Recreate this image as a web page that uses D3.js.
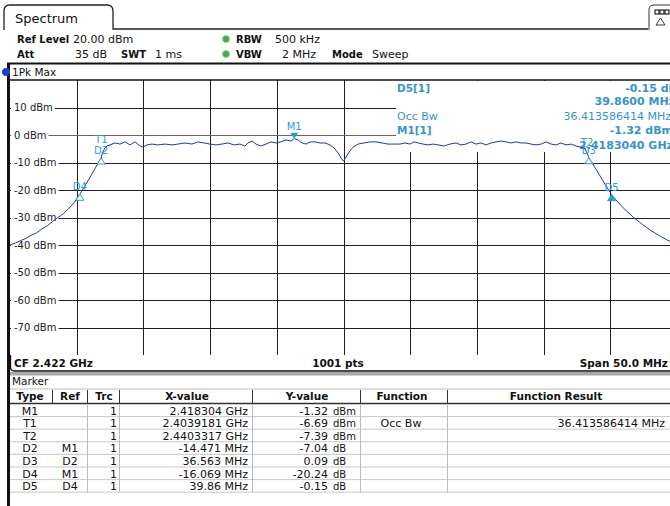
<!DOCTYPE html>
<html>
<head>
<meta charset="utf-8">
<script src="https://cdn.jsdelivr.net/npm/d3@7"></script>
<style>
  body { margin: 0; background: #fff; }
  svg { display: block; font-family: "DejaVu Sans", sans-serif; }
</style>
</head>
<body>
<svg id="chart" width="670" height="506"></svg>
<script>
// ---- Trace: 1Pk Max, frequency in MHz, level in dBm ----
const traceMHz = [
  2397.0, 2397.4, 2397.8, 2398.2, 2398.6, 2399.0, 2399.4, 2399.8, 2400.2, 2400.6,
  2401.0, 2401.4, 2401.8, 2402.235, 2402.6, 2403.0, 2403.4, 2403.833, 2403.918, 2404.1,
  2404.3, 2404.5, 2404.87, 2405.25, 2405.62, 2406.0, 2406.37, 2406.75, 2406.97, 2407.27,
  2407.64, 2408.09, 2408.62, 2409.14, 2409.59, 2410.12, 2410.64, 2411.09, 2411.54, 2411.99,
  2412.44, 2412.89, 2413.34, 2413.79, 2414.24, 2414.61, 2414.84, 2415.14, 2415.44, 2415.81,
  2416.19, 2416.56, 2416.94, 2417.31, 2417.69, 2418.06, 2418.304, 2418.59, 2418.89, 2419.19,
  2419.49, 2419.86, 2420.24, 2420.61, 2420.99, 2421.29, 2421.59, 2421.82, 2422.0, 2422.19,
  2422.42, 2422.72, 2423.09, 2423.54, 2423.99, 2424.44, 2424.89, 2425.34, 2425.79, 2426.24,
  2426.61, 2426.99, 2427.29, 2427.59, 2427.96, 2428.34, 2428.71, 2429.09, 2429.54, 2429.99,
  2430.44, 2430.81, 2431.18, 2431.56, 2431.93, 2432.31, 2432.68, 2433.06, 2433.43, 2433.81,
  2434.18, 2434.56, 2434.93, 2435.31, 2435.68, 2436.06, 2436.43, 2436.81, 2437.18, 2437.56,
  2437.93, 2438.31, 2438.68, 2439.06, 2439.43, 2439.81, 2440.11, 2440.3317, 2440.396, 2441.0,
  2441.5, 2442.095, 2442.6, 2443.2, 2443.8, 2444.4, 2445.0, 2445.6, 2446.2, 2446.6, 2447.0
];
const traceDbm = [
  -40.0, -39.3, -38.4, -37.6, -36.4, -35.6, -34.1, -33.0, -31.4, -30.0,
  -28.6, -26.8, -24.6, -21.56, -18.6, -15.4, -11.9, -8.36, -6.69, -4.8,
  -3.9, -3.6, -2.9, -3.3, -2.5, -3.6, -2.5, -4.0, -4.4, -3.6,
  -3.3, -3.6, -3.3, -3.6, -3.3, -2.9, -3.3, -2.5, -2.9, -3.3,
  -3.6, -3.3, -2.9, -3.6, -3.3, -4.0, -2.9, -2.2, -3.3, -4.0,
  -3.3, -2.5, -2.9, -2.5, -1.8, -2.2, -1.32, -1.8, -2.9, -3.3,
  -2.5, -2.5, -2.9, -2.9, -3.6, -4.7, -6.5, -8.4, -9.5, -8.0,
  -6.2, -4.4, -3.3, -2.9, -2.5, -2.5, -2.9, -3.3, -3.3, -3.3,
  -2.9, -3.3, -2.5, -2.9, -3.3, -3.6, -3.3, -3.6, -4.0, -3.3,
  -2.9, -3.6, -3.3, -2.5, -3.3, -2.9, -3.6, -2.9, -2.5, -2.2,
  -2.5, -2.9, -2.5, -2.9, -2.9, -3.3, -3.6, -3.3, -2.5, -3.3,
  -3.6, -2.9, -3.6, -3.3, -4.0, -4.4, -5.1, -7.39, -8.27, -13.0,
  -17.1, -21.71, -24.6, -27.6, -30.2, -32.5, -34.6, -36.4, -38.0, -39.0, -39.8
];

// ---- Axis ----
const freqStart = 2397.0, freqStop = 2447.0;   // CF 2.422 GHz, span 50 MHz
const levelTop = 20, levelBottom = -80;        // ref level 20 dBm, 10 dB/div
const yTickValues = [10, 0, -10, -20, -30, -40, -50, -60, -70];
const yTickLabels = ["10 dBm", "0 dBm", "-10 dBm", "-20 dBm", "-30 dBm", "-40 dBm", "-50 dBm", "-60 dBm", "-70 dBm"];

// ---- Marker table ----
const mkType  = ["M1", "T1", "T2", "D2", "D3", "D4", "D5"];
const mkRef   = ["", "", "", "M1", "D2", "M1", "D4"];
const mkTrc   = ["1", "1", "1", "1", "1", "1", "1"];
const mkX     = [2418.304, 2403.9181, 2440.3317, -14.471, 36.563, -16.069, 39.86]; // MHz
const mkXText = ["2.418304 GHz", "2.4039181 GHz", "2.4403317 GHz", "-14.471 MHz", "36.563 MHz", "-16.069 MHz", "39.86 MHz"];
const mkY     = [-1.32, -6.69, -7.39, -7.04, 0.09, -20.24, -0.15];
const mkYText = ["-1.32", "-6.69", "-7.39", "-7.04", "0.09", "-20.24", "-0.15"];
const mkYUnit = ["dBm", "dBm", "dBm", "dB", "dB", "dB", "dB"];
const mkFunc  = ["", "Occ Bw", "", "", "", "", ""];
const mkFuncResult = ["", "36.413586414 MHz", "", "", "", "", ""];

const svg = d3.select("#chart");
const x = d3.scaleLinear().domain([freqStart, freqStop]).range([10, 677]);
const y = d3.scaleLinear().domain([levelBottom, levelTop]).range([355, 80]);

const markerBlue = "#2f9bd3";
const readBlue = "#3a93c8";
const traceBlue = "#1f3aa6";

// Resolve absolute marker positions (delta markers refer to another marker)
const mkAbs = {};
mkType.forEach((t, i) => {
  if (mkRef[i] === "") mkAbs[t] = { f: mkX[i], l: mkY[i] };
  else {
    const r = mkAbs[mkRef[i]];
    mkAbs[t] = { f: r.f + mkX[i], l: r.l + mkY[i] };
  }
});

// ---- Header ----
svg.append("path")
  .attr("d", "M4,30 L4,11 Q4,5 10,5 L107,5 Q113,5 113,11 L113,29 L648,29")
  .attr("fill", "none").attr("stroke", "#222").attr("stroke-width", 1.3);
svg.append("text").attr("x", 15).attr("y", 23).attr("font-size", 13).attr("fill", "#111").text("Spectrum");

// small display icon at top right
svg.append("path").attr("d", "M672,5 L654,5 Q649,5 649,10 L649,30")
  .attr("fill", "none").attr("stroke", "#333").attr("stroke-width", 1);
[655, 660, 665].forEach(px => svg.append("rect").attr("x", px).attr("y", 10).attr("width", 4).attr("height", 4)
  .attr("fill", "none").attr("stroke", "#222").attr("stroke-width", 1.2));
svg.append("path").attr("d", "M656,25 L660.5,18 L665,25 Z").attr("fill", "none").attr("stroke", "#222").attr("stroke-width", 0.9);

function hdr(xp, yp, txt, bold, anchor, size) {
  svg.append("text").attr("x", xp).attr("y", yp).attr("font-size", size || (bold ? 10 : 11))
    .attr("font-weight", bold ? "bold" : "normal").attr("fill", "#111")
    .attr("text-anchor", anchor || "start").text(txt);
}
hdr(17, 43, "Ref Level", true); hdr(73, 43, "20.00 dBm");
hdr(17, 58, "Att", true); hdr(107, 58, "35 dB", false, "end");
hdr(121, 58, "SWT", true); hdr(155, 58, "1 ms");
hdr(236, 43, "RBW", true); hdr(275, 43, "500 kHz");
hdr(236, 58, "VBW", true); hdr(282, 58, "2 MHz");
hdr(332, 58, "Mode", true); hdr(372, 58, "Sweep");
[39, 54].forEach(cy => svg.append("circle").attr("cx", 226).attr("cy", cy).attr("r", 3.5)
  .attr("fill", "#4aa84a").attr("stroke", "#8ccf8c").attr("stroke-width", 0.8));

// frame lines
svg.append("line").attr("x1", 7).attr("x2", 670).attr("y1", 63.5).attr("y2", 63.5).attr("stroke", "#111").attr("stroke-width", 2);
svg.append("rect").attr("x", 7).attr("y", 63).attr("width", 3).attr("height", 443).attr("fill", "#111");

svg.append("circle").attr("cx", 6).attr("cy", 72).attr("r", 4).attr("fill", "#1d3fd8");
svg.append("text").attr("x", 12).attr("y", 76).attr("font-size", 10.5).attr("fill", "#111").text("1Pk Max");

// ---- Grid ----
const grid = svg.append("g");
const xGridTicks = d3.range(0, 11).map(i => freqStart + i * (freqStop - freqStart) / 10);
grid.selectAll("line.v").data(xGridTicks.slice(1)).join("line")
  .attr("x1", d => Math.round(x(d)) + 0.5).attr("x2", d => Math.round(x(d)) + 0.5)
  .attr("y1", y(levelTop)).attr("y2", y(levelBottom))
  .attr("stroke", "#222").attr("stroke-width", 1);
grid.selectAll("line.h").data(yTickValues).join("line")
  .attr("x1", 10).attr("x2", 677)
  .attr("y1", d => Math.round(y(d)) + 0.5).attr("y2", d => Math.round(y(d)) + 0.5)
  .attr("stroke", d => d === 0 ? "#666" : "#222").attr("stroke-width", 1);
svg.append("line").attr("x1", 10).attr("x2", 670).attr("y1", y(levelTop)).attr("y2", y(levelTop))
  .attr("stroke", "#111").attr("stroke-width", 1.5);

// y tick labels on white
const yl = svg.append("g");
yTickValues.forEach((v, i) => {
  const t = yl.append("text").attr("x", 14).attr("y", y(v) + 3.5).attr("font-size", 10).attr("fill", "#222").text(yTickLabels[i]);
  const w = t.node().getComputedTextLength();
  yl.insert("rect", "text").attr("x", 11).attr("y", y(v) - 6).attr("width", w + 5).attr("height", 12).attr("fill", "#fff");
});

// readout area
svg.append("rect").attr("x", 396).attr("y", 81).attr("width", 280).attr("height", 71).attr("fill", "#fff");
const ro = svg.append("g").attr("font-size", 11).attr("fill", readBlue);
ro.append("text").attr("x", 397).attr("y", 92).attr("font-weight", "bold").attr("font-size", 10.5).text("D5[1]");
ro.append("text").attr("x", 677).attr("y", 92).attr("text-anchor", "end").attr("font-weight", "bold").text("-0.15 dB");
ro.append("text").attr("x", 675).attr("y", 105).attr("text-anchor", "end").attr("font-weight", "bold").text("39.8600 MHz");
ro.append("text").attr("x", 397).attr("y", 120).text("Occ Bw");
ro.append("text").attr("x", 671).attr("y", 120).attr("text-anchor", "end").text(mkFuncResult[1]);
ro.append("text").attr("x", 397).attr("y", 134).attr("font-weight", "bold").attr("font-size", 10.5).text("M1[1]");
ro.append("text").attr("x", 673).attr("y", 134).attr("text-anchor", "end").attr("font-weight", "bold").text("-1.32 dBm");
ro.append("text").attr("x", 673).attr("y", 149).attr("text-anchor", "end").attr("font-weight", "bold").text("2.4183040 GHz");

// ---- Trace ----
const pts = traceMHz.map((f, i) => [f, traceDbm[i]]);
svg.append("path").datum(pts)
  .attr("d", d3.line().x(d => x(d[0])).y(d => y(d[1])))
  .attr("fill", "none").attr("stroke", traceBlue).attr("stroke-width", 1);

// ---- Marker symbols & labels ----
const mk = svg.append("g").attr("font-size", 10).attr("fill", markerBlue);
function label(name, px, py) {
  mk.append("text").attr("x", px).attr("y", py).attr("text-anchor", "middle").attr("fill", markerBlue).text(name);
}
function upTri(px, py, filled) {
  mk.append("path").attr("d", `M${px},${py} L${px + 4},${py + 6} L${px - 4},${py + 6} Z`)
    .attr("fill", filled ? markerBlue : "#fff").attr("stroke", markerBlue).attr("stroke-width", 1);
}
// M1
{
  const p = mkAbs.M1, px = x(p.f), py = y(p.l);
  mk.append("path").attr("d", `M${px},${py} L${px + 4},${py - 6} L${px - 4},${py - 6} Z`).attr("fill", markerBlue);
  label("M1", px, py - 9);
}
// temporary occupied-bandwidth markers
label("T1", x(mkAbs.T1.f) - 1, 143);
label("T2", x(mkAbs.T2.f) - 1, 146);
// delta markers
[["D2", false], ["D3", false], ["D4", false], ["D5", true]].forEach(([n, filled]) => {
  const p = mkAbs[n], px = x(p.f), py = y(p.l);
  upTri(px, py, filled);
  label(n, px, py - 4);
});

// ---- Bottom status bar ----
svg.append("path").attr("d", "M10.5,355 L10.5,367 Q10.5,371 14.5,371 L672,371")
  .attr("fill", "#fff").attr("stroke", "#111").attr("stroke-width", 1.3);
hdr(14, 367, "CF 2.422 GHz", true, "start", 10.5);
hdr(338, 367, "1001 pts", true, "middle", 10.5);
hdr(668, 367, "Span 50.0 MHz", true, "end", 10.5);
svg.append("rect").attr("x", 10).attr("y", 372).attr("width", 660).attr("height", 3.5).attr("fill", "#a8a8a8");

// ---- Marker table ----
svg.append("text").attr("x", 12).attr("y", 385).attr("font-size", 10.5).attr("fill", "#111").text("Marker");
const tb = svg.append("g").attr("font-size", 11).attr("fill", "#111");
tb.append("line").attr("x1", 10).attr("x2", 670).attr("y1", 389).attr("y2", 389).attr("stroke", "#bbb");
tb.append("line").attr("x1", 10).attr("x2", 670).attr("y1", 403.5).attr("y2", 403.5).attr("stroke", "#333").attr("stroke-width", 1.5);
[52, 87, 119, 252, 360, 447].forEach(cx => tb.append("line").attr("x1", cx + 0.5).attr("x2", cx + 0.5)
  .attr("y1", 390).attr("y2", 403).attr("stroke", "#333"));
const heads = [["Type", 30], ["Ref", 70], ["Trc", 104], ["X-value", 187], ["Y-value", 307], ["Function", 402], ["Function Result", 556]];
heads.forEach(([h, cx]) => tb.append("text").attr("x", cx).attr("y", 400).attr("text-anchor", "middle")
  .attr("font-weight", "bold").attr("font-size", 10.5).text(h));

const rowH = 12.6, row0 = 404;
mkType.forEach((t, i) => {
  const top = row0 + i * rowH, base = top + 10.5;
  tb.append("line").attr("x1", 10).attr("x2", 670).attr("y1", top + rowH).attr("y2", top + rowH).attr("stroke", "#c8c8c8");
  tb.append("text").attr("x", 30).attr("y", base).attr("text-anchor", "middle").text(t);
  tb.append("text").attr("x", 70).attr("y", base).attr("text-anchor", "middle").text(mkRef[i]);
  tb.append("text").attr("x", 117).attr("y", base).attr("text-anchor", "end").text(mkTrc[i]);
  tb.append("text").attr("x", 248).attr("y", base).attr("text-anchor", "end").text(mkXText[i]);
  tb.append("text").attr("x", 328).attr("y", base).attr("text-anchor", "end").text(mkYText[i]);
  tb.append("text").attr("x", 333).attr("y", base).attr("font-size", 10).text(mkYUnit[i]);
  tb.append("text").attr("x", 401).attr("y", base).attr("text-anchor", "middle").text(mkFunc[i]);
  tb.append("text").attr("x", 665).attr("y", base).attr("text-anchor", "end").text(mkFuncResult[i]);
});
[87, 119, 252, 360, 447].forEach(cx => tb.append("line").attr("x1", cx + 0.5).attr("x2", cx + 0.5)
  .attr("y1", row0).attr("y2", row0 + mkType.length * rowH).attr("stroke", "#bbb"));
</script>
</body>
</html>
